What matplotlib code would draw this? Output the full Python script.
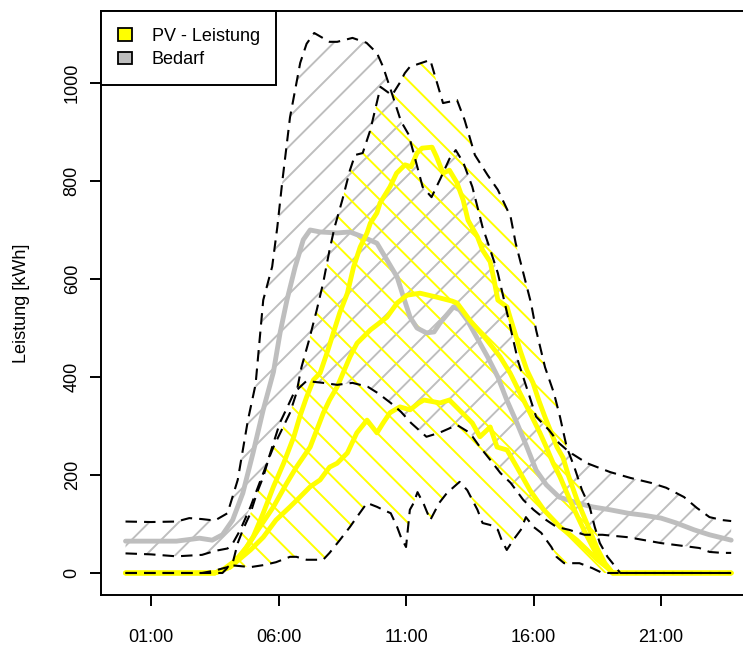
import numpy as np
import matplotlib
matplotlib.use("Agg")
import matplotlib.pyplot as plt
from matplotlib.patches import Patch, Polygon
from matplotlib.collections import LineCollection

plt.rcParams['font.family'] = ['Liberation Sans', 'DejaVu Sans']

# --- Bedarf (demand) band + mean, hours of day ---
bedarf_max_h = [0, 1, 2, 2.5, 3, 3.5, 4, 4.4, 4.8, 5.1, 5.4, 5.75, 5.95, 6.15, 6.45,
                6.85, 7.1, 7.4, 8.0, 8.3, 8.9, 9.45, 9.86, 10.1, 10.4, 10.8, 11.1,
                11.4, 11.65, 12.0, 12.35, 12.7, 12.95, 13.25, 13.6, 14.0, 14.3, 14.6,
                15.0, 15.4, 15.8, 16.1, 16.6, 17.0, 17.4, 18.1, 19.0, 19.8, 20.6,
                21.2, 21.9, 22.4, 22.9, 23.4, 23.75]
bedarf_max = [105, 104, 105, 112, 110, 107, 122, 190, 312, 385, 557, 625, 705, 800, 930,
              1041, 1080, 1102, 1084, 1084, 1092, 1082, 1061, 1033, 986, 922, 895,
              837, 788, 767, 805, 845, 863, 837, 788, 706, 660, 612,
              522, 431, 367, 319, 292, 265, 247, 224, 206, 194, 184,
              174, 155, 133, 114, 108, 106]

bedarf_min_h = [0, 1, 2, 3, 3.5, 4.0, 4.2, 4.5, 4.9, 5.3, 5.55, 5.75, 6.05, 6.35, 6.6,
                6.85, 7.1, 7.4, 7.75, 8.3, 8.9, 9.5, 9.9, 10.4, 10.8, 11.2, 11.8,
                12.3, 13.0, 13.5, 13.9, 14.3, 14.7, 15.1, 15.6, 16.0, 16.5, 16.9,
                17.4, 18.0, 18.7, 19.7, 21.0, 21.6, 22.5, 22.9, 23.4, 23.75]
bedarf_min = [40, 38, 34, 37, 45, 50, 60, 88, 135, 190, 224, 257, 306, 339, 367,
              380, 392, 390, 388, 384, 388, 380, 367, 347, 329, 306, 278,
              286, 302, 286, 257, 231, 204, 184, 149, 129, 108, 94,
              88, 78, 78, 73, 61, 57, 51, 43, 41, 41]

bedarf_mean_h = [0, 2.0, 2.9, 3.4, 3.8, 4.2, 4.6, 5.0, 5.4, 5.8, 6.06, 6.33, 6.65, 6.97,
                 7.24, 7.63, 8.3, 8.8, 9.3, 9.86, 10.25, 10.65, 10.9, 11.16, 11.43,
                 11.8, 12.1, 12.33, 12.86, 13.1, 13.4, 13.9, 14.2, 14.6, 14.95, 15.35,
                 15.74, 16.1, 16.5, 17.0, 17.7, 18.3, 19.0, 19.7, 20.3, 21.0, 21.6,
                 22.3, 22.9, 23.75]
bedarf_mean = [65, 65, 71, 67, 78, 108, 163, 245, 333, 410, 490, 557, 624, 680,
               700, 696, 694, 696, 686, 673, 639, 604, 563, 522, 500,
               490, 492, 510, 543, 537, 516, 469, 441, 400, 353, 306,
               257, 210, 180, 155, 143, 135, 129, 122, 118, 112, 102,
               88, 78, 67]

# --- PV band + three PV curves ---
pv_max_h = [0, 3.0, 3.5, 4.0, 4.2, 4.4, 4.6, 4.9, 5.15, 5.4, 5.6, 5.8, 6.45, 6.7, 6.9,
            7.2, 7.5, 7.75, 8.0, 8.2, 8.5, 8.8, 9.0, 9.3, 9.6, 9.85, 10.0, 10.45,
            10.75, 10.95, 11.15, 11.95, 12.45, 13.0, 13.3, 13.7, 14.2, 14.6, 15.1,
            15.3, 15.6, 15.9, 16.1, 16.45, 16.8, 17.04, 17.3, 17.6, 17.9, 18.2,
            18.4, 18.6, 18.9, 19.1, 19.4, 23.75]
pv_max = [0, 0, 5, 12, 20, 61, 88, 122, 163, 196, 231, 257, 327, 367, 420,
          476, 537, 592, 659, 706, 761, 822, 853, 857, 904, 959, 992, 975,
          1000, 1020, 1033, 1047, 959, 965, 924, 853, 812, 782, 727,
          673, 612, 551, 496, 420, 367, 318, 257, 216, 169, 135,
          94, 61, 33, 20, 0, 0]

pv_min_h = [0, 3.8, 4.1, 4.9, 5.4, 5.9, 6.45, 6.7, 7.1, 7.75, 8.0, 8.4, 8.8, 9.07,
            9.47, 9.86, 10.1, 10.4, 10.65, 10.8, 11.0, 11.15, 11.3, 11.45, 11.7,
            11.95, 12.3, 12.6, 13.1, 13.4, 13.6, 13.8, 14.0, 14.3, 14.6, 14.75,
            14.95, 15.2, 15.5, 15.7, 16.0, 16.3, 16.7, 16.9, 17.2, 17.8, 18.3,
            18.7, 23.75]
pv_min = [0, 0, 16, 12, 16, 22, 33, 33, 27, 27, 41, 67, 94, 114,
          143, 135, 129, 122, 94, 73, 53, 129, 143, 165, 140,
          108, 143, 163, 186, 169, 149, 129, 102, 98, 88, 67,
          47, 67, 88, 114, 94, 82, 53, 33, 20, 20, 10,
          0, 0]

pv_high_h = [0, 3.5, 3.8, 4.5, 5.0, 5.4, 5.8, 6.2, 6.6, 6.84, 7.1, 7.37, 7.63, 7.9,
             8.15, 8.4, 8.7, 8.94, 9.2, 9.47, 9.6, 9.86, 9.98, 10.37, 10.63, 10.96,
             11.2, 11.43, 11.63, 12.02, 12.2, 12.45, 12.7, 13.0, 13.24, 13.43, 13.8,
             14.0, 14.3, 14.45, 14.6, 14.96, 15.08, 15.27, 15.47, 15.74, 15.98,
             16.2, 16.45, 16.65, 16.92, 17.16, 17.36, 17.7, 18.1, 18.5, 18.8,
             19.1, 23.75]
pv_high = [0, 0, 6, 33, 73, 122, 176, 224, 278, 320, 359, 394, 408, 449,
           490, 531, 571, 624, 665, 694, 714, 735, 755, 788, 816, 833,
           829, 857, 867, 869, 849, 816, 822, 796, 761, 720, 686,
           659, 635, 598, 557, 543, 522, 490, 455, 414, 388,
           353, 318, 292, 257, 235, 200, 150, 100, 50, 20,
           0, 0]

pv_mid_h = [0, 3.5, 4.1, 4.75, 5.27, 5.8, 6.33, 6.7, 7.24, 7.76, 8.0, 8.3, 8.53, 8.8,
            9.08, 9.6, 10.25, 10.65, 11.04, 11.55, 12.2, 12.8, 13.0, 13.5, 14.16,
            14.69, 15.08, 15.47, 15.86, 16.25, 16.5, 16.77, 17.04, 17.5, 18.0,
            18.5, 19.1, 23.75]
pv_mid = [0, 0, 12, 53, 94, 135, 184, 216, 257, 327, 353, 380, 408, 441,
          469, 496, 522, 551, 567, 571, 563, 555, 551, 516, 476,
          441, 408, 367, 327, 286, 257, 224, 196, 140, 85,
          35, 0, 0]

pv_low_h = [0, 3.5, 4.1, 4.9, 5.4, 5.9, 6.45, 6.84, 7.24, 7.63, 8.0, 8.3, 8.7, 9.07,
            9.47, 9.86, 10.1, 10.37, 10.76, 11.16, 11.5, 11.7, 12.33, 12.7, 13.2,
            13.6, 13.9, 14.3, 14.57, 14.96, 15.35, 15.86, 16.4, 17.04, 17.7, 18.5,
            19.0, 19.1, 23.75]
pv_low = [0, 0, 12, 47, 73, 108, 135, 155, 176, 190, 216, 224, 245, 286,
          312, 286, 306, 327, 339, 333, 347, 353, 347, 353, 327,
          306, 278, 298, 257, 251, 216, 169, 129, 94, 67, 27,
          6, 0, 0]

tick_hours = [1, 6, 11, 16, 21]
tick_labels = ['01:00', '06:00', '11:00', '16:00', '21:00']
y_ticks = [0, 200, 400, 600, 800, 1000]
legend_labels = ['PV - Leistung', 'Bedarf']

GREY = '#BEBEBE'
YELLOW = '#FFFF00'

# figure / axes geometry in pixels (axes box runs past the right edge, as in the original)
W_PX, H_PX = 743, 646
AX_L, AX_R, AX_B, AX_T = 101.3, 755.4, 594.6, 11.4
fig = plt.figure(figsize=(W_PX / 100, H_PX / 100), dpi=100)
ax = fig.add_axes([AX_L / W_PX, 1 - AX_B / H_PX, (AX_R - AX_L) / W_PX, (AX_B - AX_T) / H_PX])
ax.set_xlim(-0.95, 24.7)
ax.set_ylim(-44.1, 1146.1)


def hatch_band(h_hi, hi, h_lo, lo, color, direction, spacing=29.5):
    verts = np.column_stack([np.r_[h_hi, h_lo[::-1]], np.r_[hi, lo[::-1]]])
    clip = Polygon(verts, closed=True, facecolor='none', edgecolor='none',
                   transform=ax.transData)
    ax.add_patch(clip)
    w = AX_R - AX_L
    h = AX_B - AX_T
    segs = []
    for c in np.arange(-w, w + h, spacing):
        if direction > 0:
            p0, p1 = (0, c), (w, w + c)
        else:
            p0, p1 = (0, c), (w, c - w)
        segs.append([(p0[0] / w, p0[1] / h), (p1[0] / w, p1[1] / h)])
    lc = LineCollection(segs, colors=color, linewidths=1.4,
                        transform=ax.transAxes, zorder=1)
    ax.add_collection(lc, autolim=False)
    lc.set_clip_path(clip)


hatch_band(bedarf_max_h, bedarf_max, bedarf_min_h, bedarf_min, GREY, +1)
hatch_band(pv_max_h, pv_max, pv_min_h, pv_min, YELLOW, -1)

thick = dict(lw=3.5, solid_capstyle='round', solid_joinstyle='round', zorder=2)
ax.plot(bedarf_mean_h, bedarf_mean, color=GREY, **thick)
ax.plot(pv_low_h, pv_low, color=YELLOW, **thick)
ax.plot(pv_mid_h, pv_mid, color=YELLOW, **thick)
ax.plot(pv_high_h, pv_high, color=YELLOW, **thick)

dash = dict(color='black', lw=1.5, linestyle=(0, (5.5, 3.4)), zorder=3)
ax.plot(bedarf_max_h, bedarf_max, **dash)
ax.plot(bedarf_min_h, bedarf_min, **dash)
ax.plot(pv_max_h, pv_max, **dash)
ax.plot(pv_min_h, pv_min, **dash)

ax.set_xticks(tick_hours)
ax.set_xticklabels(tick_labels)
ax.set_yticks(y_ticks)
ax.set_yticklabels([str(v) for v in y_ticks])
ax.tick_params(axis='both', length=7.8, width=1.4, labelsize=13)
ax.tick_params(axis='x', pad=17)
ax.tick_params(axis='y', pad=7)
for lab in ax.get_yticklabels():
    lab.set_rotation(90)
    lab.set_va('center')
for sp in ax.spines.values():
    sp.set_linewidth(1.4)

ax.set_ylabel('Leistung [kWh]', fontsize=13)
ax.yaxis.set_label_coords((30 - AX_L) / (AX_R - AX_L), 0.5)

handles = [Patch(facecolor=YELLOW, edgecolor='black', lw=1.3, label=legend_labels[0]),
           Patch(facecolor=GREY, edgecolor='black', lw=1.3, label=legend_labels[1])]
leg = ax.legend(handles=handles, loc='upper left', borderaxespad=0, fancybox=False,
                edgecolor='black', framealpha=1, fontsize=13, handlelength=0.8,
                handleheight=0.7, handletextpad=1.1, labelspacing=0.37, borderpad=0.9)
leg.get_frame().set_linewidth(1.4)

fig.savefig('out.png', dpi=100)
